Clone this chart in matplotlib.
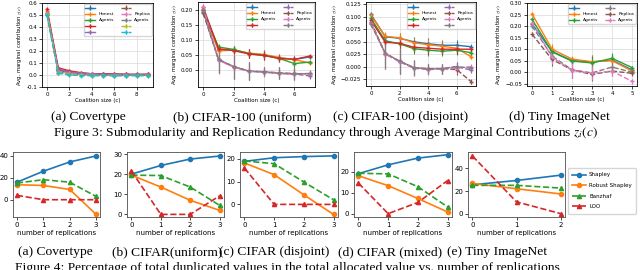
import matplotlib
matplotlib.use("Agg")
import matplotlib.pyplot as plt
import numpy as np

plt.rcParams['mathtext.fontset'] = 'stix'

# ---- Figure 3: average marginal contributions z(c) ----
cov_x = [0, 1, 2, 3, 4, 5, 6, 7, 8, 9]
cov_series = [
    [0.52, 0.040, 0.020, 0.010, 0.010, 0.005, 0.005, 0.005, 0.000, 0.005],
    [0.53, 0.050, 0.030, 0.015, 0.010, 0.010, 0.005, 0.005, 0.005, 0.005],
    [0.51, 0.040, 0.020, 0.010, 0.005, 0.005, 0.000, 0.000, 0.000, 0.000],
    [0.55, 0.060, 0.035, 0.020, 0.010, 0.010, 0.010, 0.005, 0.005, 0.005],
    [0.52, 0.050, 0.025, 0.015, 0.010, 0.005, 0.005, 0.005, 0.005, 0.005],
    [0.51, 0.030, 0.010, 0.005, 0.000, 0.000, 0.000, 0.000, 0.000, 0.000],
    [0.52, 0.030, 0.015, 0.005, 0.005, 0.000, 0.000, 0.000, 0.000, 0.000],
    [0.50, 0.020, 0.010, 0.000, 0.000, 0.000, -0.005, -0.005, 0.000, 0.000],
    [0.51, 0.020, 0.005, 0.000, -0.005, -0.005, -0.005, -0.005, -0.005, -0.005],
    [0.50, 0.015, 0.000, -0.005, -0.005, -0.005, -0.005, -0.005, -0.005, -0.005],
]
cov_err = [0.01, 0.01, 0.008, 0.006, 0.005, 0.005, 0.005, 0.005, 0.005, 0.005]
cov_labels = ["", "Honest", "Agents", "", "", "", "Replica", "Agents", "", ""]

uni_x = [0, 1, 2, 3, 4, 5, 6, 7]
uni_series = [
    [0.200, 0.068, 0.068, 0.057, 0.052, 0.042, 0.037, 0.045],
    [0.205, 0.065, 0.068, 0.058, 0.053, 0.043, 0.036, 0.025],
    [0.200, 0.078, 0.070, 0.056, 0.050, 0.040, 0.023, 0.028],
    [0.210, 0.072, 0.066, 0.055, 0.050, 0.040, 0.037, 0.048],
    [0.195, 0.035, 0.012, -0.003, -0.005, -0.010, -0.012, -0.018],
    [0.190, 0.036, 0.013, -0.002, -0.004, -0.008, -0.010, -0.012],
    [0.210, 0.034, 0.011, -0.003, -0.006, -0.010, -0.013, -0.012],
    [0.200, 0.037, 0.013, -0.002, -0.005, -0.009, -0.011, -0.010],
]
uni_err_honest = [0.005, 0.010, 0.012, 0.015, 0.015, 0.012, 0.010, 0.005]
uni_err_replica = [0.010, 0.045, 0.040, 0.030, 0.015, 0.020, 0.020, 0.010]

dis_x = [0, 1, 2, 3, 4, 5, 6, 7]
dis_series = [
    [0.105, 0.060, 0.057, 0.050, 0.046, 0.043, 0.043, 0.040],
    [0.103, 0.061, 0.058, 0.048, 0.044, 0.041, 0.037, 0.020],
    [0.097, 0.052, 0.046, 0.036, 0.033, 0.031, 0.033, 0.028],
    [0.093, 0.049, 0.047, 0.039, 0.037, 0.035, 0.035, 0.035],
    [0.088, 0.026, 0.010, -0.003, -0.005, -0.004, 0.000, -0.007],
    [0.090, 0.026, 0.011, -0.002, -0.004, -0.004, -0.006, -0.030],
    [0.087, 0.025, 0.010, -0.003, -0.006, -0.005, -0.003, 0.000],
    [0.085, 0.027, 0.011, -0.002, -0.005, -0.004, 0.000, -0.003],
]
dis_err_honest = [0.003, 0.008, 0.010, 0.010, 0.012, 0.010, 0.010, 0.005]
dis_err_replica = [0.005, 0.030, 0.025, 0.015, 0.010, 0.010, 0.010, 0.005]
cifar_labels = ["", "Honest", "Agents", "", "", "Replica", "Agents", ""]

tiny_x = [0, 1, 2, 3, 4, 5]
tiny_series = [
    [0.210, 0.090, 0.050, 0.045, 0.052, 0.010],
    [0.253, 0.100, 0.057, 0.045, 0.050, 0.005],
    [0.230, 0.088, 0.048, 0.040, 0.060, 0.020],
    [0.200, 0.070, 0.010, -0.003, 0.022, 0.000],
    [0.165, 0.055, 0.010, -0.010, 0.005, -0.005],
    [0.215, 0.065, 0.008, -0.005, 0.005, -0.040],
]
tiny_err_honest = [0.005, 0.020, 0.015, 0.030, 0.025, 0.005]
tiny_err_replica = [0.010, 0.030, 0.035, 0.030, 0.020, 0.010]
tiny_labels = ["", "Honest", "Agents", "", "Replica", "Agents"]

# ---- Figure 4: value vs number of replications ----
methods = ["Shapley", "Robust Shapley", "Banzhaf", "LOO"]
rep_cov = [[16, 26, 34.5, 40], [13.7, 13, 9.4, -13.4], [15.2, 18.3, 16, 3], [4, 0, 0, 0]]
rep_uni = [[20, 24.3, 27.5, 29], [19.5, 13.6, 7, 2], [19.5, 19.3, 13.6, 4.5], [21.5, 0, 0, 9.2]]
rep_dis = [[18.8, 20.4, 20.9, 21.2], [18.1, 13, 4.2, -4.4], [19, 17.8, 9.8, 2], [15.9, 0, 0, 0]]
rep_mix = [[19, 23.2, 26.4, 28], [18, 13.3, 7.2, 0.8], [19.2, 18.9, 12.8, 3.2], [14.5, 0, 5.3, 15.7]]
rep_tiny = [[25.5, 29.3, 34], [26.7, 22, 17.4], [25, 25, 22.6], [51, 10.4, 0]]

W, H = 640, 270
fig = plt.figure(figsize=(6.4, 2.7), dpi=100)


def box(l, t, r, b):
    return [l / W, 1 - b / H, (r - l) / W, (b - t) / H]


def top_panel(rect, x, series, colors, err_h, err_r, n_honest, labels, ylim, yticks):
    ax = fig.add_axes(box(*rect))
    handles = []
    for i, ys in enumerate(series):
        honest = i < n_honest
        h = ax.errorbar(x, ys, yerr=err_h if honest else err_r, color=colors[i],
                        ls='-' if honest else '--', lw=1, marker='+', ms=3.5,
                        mew=1, elinewidth=0.8)
        handles.append(h)
    ax.set_ylim(*ylim)
    ax.set_yticks(yticks)
    ax.grid(True, color='0.85', lw=0.5)
    ax.tick_params(labelsize=4, length=2, width=0.5, pad=1.5)
    for s in ax.spines.values():
        s.set_linewidth(0.6)
    ax.set_xlabel('Coalition size (c)', fontsize=4, labelpad=1)
    ax.set_ylabel('Avg. marginal contribution $z(c)$', fontsize=3.8, labelpad=1.5)
    ax.legend(handles, labels, ncol=2, fontsize=3.2, loc='upper right',
              handlelength=2.2, columnspacing=1.5, borderaxespad=0.3,
              labelspacing=0.45, frameon=True)
    return ax


tab = plt.get_cmap('tab10').colors
ax = top_panel((42, 3, 153, 87), cov_x, cov_series, tab, cov_err, cov_err, 5, cov_labels,
               (-0.1, 0.6), np.arange(-0.1, 0.61, 0.1))
ax.set_yticklabels(['-0.1', '0.0', '0.1', '0.2', '0.3', '0.4', '0.5', '0.6'])
ax.set_xticks([0, 2, 4, 6, 8])

cifar_colors = [tab[0], tab[1], tab[2], tab[3], tab[4], tab[5], tab[6], tab[7]]
ax = top_panel((198, 2, 315, 87), uni_x, uni_series, cifar_colors, uni_err_honest, uni_err_replica,
               4, cifar_labels, (-0.055, 0.228), [0.0, 0.05, 0.10, 0.15, 0.20])
ax.set_xticks([0, 2, 4, 6])

ax = top_panel((366, 2, 476, 86), dis_x, dis_series, cifar_colors, dis_err_honest, dis_err_replica,
               4, cifar_labels, (-0.039, 0.13), [-0.025, 0.0, 0.025, 0.05, 0.075, 0.10, 0.125])
ax.set_xticks([0, 2, 4, 6])

tiny_colors = [tab[0], tab[1], tab[2], tab[7], tab[5], tab[6]]
ax = top_panel((527, 3, 637, 86), tiny_x, tiny_series, tiny_colors, tiny_err_honest, tiny_err_replica,
               3, tiny_labels, (-0.06, 0.30), [-0.05, 0.0, 0.05, 0.10, 0.15, 0.20, 0.25, 0.30])
ax.set_xticks([0, 1, 2, 3, 4, 5])

top_caps = [(88, "(a) Covertype"), (242, "(b) CIFAR-100 (uniform)"),
            (401, "(c) CIFAR-100 (disjoint)"), (559, "(d) Tiny ImageNet")]
for cx, txt in top_caps:
    fig.text(cx / W, 1 - 117 / H, txt, ha='center', va='center', fontsize=9.7,
             family='Liberation Serif')
fig.text(326 / W, 1 - 133 / H,
         "Figure 3: Submodularity and Replication Redundancy through Average Marginal Contributions $z_i(c)$",
         ha='center', va='center', fontsize=9.7, family='Liberation Serif')

# bottom row
styles = [dict(color=tab[0], ls='-', marker='o'), dict(color=tab[1], ls='-', marker='o'),
          dict(color=tab[2], ls='--', marker='^'), dict(color=tab[3], ls='--', marker='^')]


def bottom_panel(rect, data, ylim, yticks):
    ax = fig.add_axes(box(*rect))
    lines = []
    for name, ys, st in zip(methods, data, styles):
        ln, = ax.plot(range(len(ys)), ys, label=name, lw=1.2, ms=3, **st)
        lines.append(ln)
    ax.set_ylim(*ylim)
    ax.set_yticks(yticks)
    ax.set_xticks(range(len(data[0])))
    ax.tick_params(labelsize=5, length=2, width=0.5, pad=1.5)
    for s in ax.spines.values():
        s.set_linewidth(0.6)
        s.set_color('0.3')
    ax.set_xlabel('number of replications', fontsize=5, labelpad=1.5)
    return ax, lines


bottom_panel((13, 152, 100, 217), rep_cov, (-15.8, 43.6), [0, 20, 40])
bottom_panel((127, 152, 224, 217), rep_uni, (-1.3, 31), [0, 10, 20, 30])
bottom_panel((240, 152, 338, 217), rep_dis, (-5.5, 22.9), [0, 10, 20])
bottom_panel((354, 152, 452, 217), rep_mix, (-1.6, 29.3), [0, 10, 20])
ax, lines = bottom_panel((468, 152, 565, 217), rep_tiny, (-3, 54.5), [0, 20, 40])
fig.legend(lines, methods, loc='upper left', bbox_to_anchor=(568 / W, 1 - 168 / H),
           fontsize=4, frameon=True, borderaxespad=0, handlelength=2.4,
           labelspacing=1.0, borderpad=0.8, handletextpad=0.6)

bot_caps = [(55, "(a) Covertype"), (167, "(b) CIFAR(uniform)"), (274, "(c) CIFAR (disjoint)"),
            (390, "(d) CIFAR (mixed)"), (497, "(e) Tiny ImageNet")]
for cx, txt in bot_caps:
    fig.text(cx / W, 1 - 252 / H, txt, ha='center', va='center', fontsize=9.7,
             family='Liberation Serif')
fig.text(15 / W, 1 - 262 / H,
         "Figure 4: Percentage of total duplicated values in the total allocated value vs. number of replications",
         ha='left', va='top', fontsize=9.7, family='Liberation Serif')

fig.savefig('out.png', dpi=100)
